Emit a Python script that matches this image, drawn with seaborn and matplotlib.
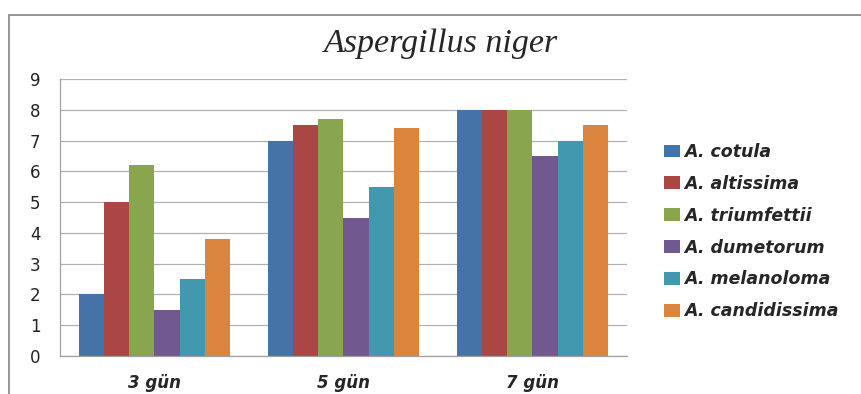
import matplotlib
matplotlib.use("Agg")
import matplotlib.pyplot as plt
from matplotlib.patches import Rectangle, Patch
import seaborn as sns
import pandas as pd

days = ["3 gün", "5 gün", "7 gün"]
species = ["A. cotula", "A. altissima", "A. triumfettii",
           "A. dumetorum", "A. melanoloma", "A. candidissima"]
cotula = [2.0, 7.0, 8.0]
altissima = [5.0, 7.5, 8.0]
triumfettii = [6.2, 7.7, 8.0]
dumetorum = [1.5, 4.5, 6.5]
melanoloma = [2.5, 5.5, 7.0]
candidissima = [3.8, 7.4, 7.5]
colors = ["#4572A7", "#AA4643", "#89A54E", "#71588F", "#4198AF", "#DB843D"]

series = [cotula, altissima, triumfettii, dumetorum, melanoloma, candidissima]
rows = []
for name, vals in zip(species, series):
    for d, v in zip(days, vals):
        rows.append({"day": d, "species": name, "value": v})
df = pd.DataFrame(rows)

sns.set_theme(style="white")
plt.rcParams["font.family"] = ["DejaVu Sans"]

fig = plt.figure(figsize=(8.62, 3.94), dpi=100)
fig.patch.set_facecolor("white")

# outer chart frame
fig.patches.append(Rectangle((9 / 862, -0.1), 1.2, 1.1 - 15 / 394,
                             transform=fig.transFigure, fill=False,
                             edgecolor="#8c8c8c", linewidth=1.3, zorder=0))

ax = fig.add_axes([60 / 862, 1 - 356 / 394, (627 - 60) / 862, (356 - 79) / 394])
sns.barplot(data=df, x="day", y="value", hue="species", order=days,
            hue_order=species, palette=colors, width=0.8, saturation=1,
            edgecolor="none", linewidth=0, legend=False, ax=ax)

ax.set_ylim(0, 9)
ax.set_yticks(range(0, 10))
ax.set_xlim(-0.5, 2.5)
ax.yaxis.grid(True, color="#b0b0b0", linewidth=0.9)
ax.set_axisbelow(True)
for s in ["top", "right"]:
    ax.spines[s].set_visible(False)
for s in ["left", "bottom"]:
    ax.spines[s].set_color("#a0a0a0")
    ax.spines[s].set_linewidth(0.9)
ax.tick_params(axis="both", length=0)
ax.tick_params(axis="y", labelsize=12, pad=14, colors="#222222")
ax.tick_params(axis="x", pad=13)
for lab in ax.get_xticklabels():
    lab.set_fontstyle("italic")
    lab.set_fontweight("bold")
    lab.set_fontsize(12)
ax.set_xlabel("")
ax.set_ylabel("")

fig.text(441 / 862, 1 - 44 / 394, "Aspergillus niger", ha="center", va="center",
         fontsize=24.5, fontstyle="italic", family=["Liberation Serif"])

handles = [Patch(facecolor=c, edgecolor="none") for c in colors]
fig.legend(handles, species, loc="upper left",
           bbox_to_anchor=(657 / 862, 1 - 136 / 394), frameon=False,
           prop={"style": "italic", "weight": "bold", "size": 12.5},
           handlelength=0.9, handleheight=0.75, handletextpad=0.25,
           labelspacing=0.8, borderaxespad=0)

fig.savefig("out.png", dpi=100, facecolor="white")
